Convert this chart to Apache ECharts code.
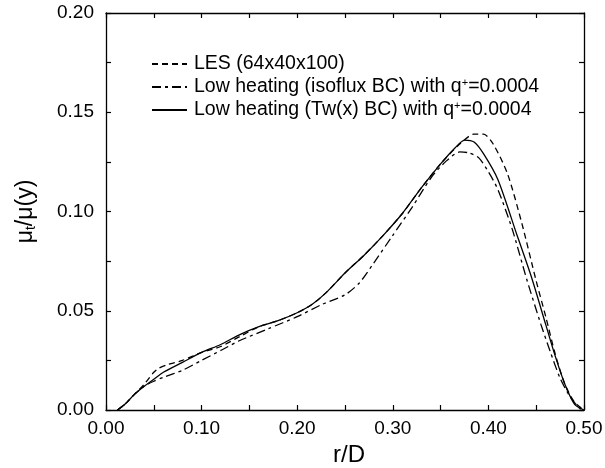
<!DOCTYPE html>
<html>
<head>
<meta charset="utf-8">
<script src="https://cdn.jsdelivr.net/npm/echarts@6/dist/echarts.min.js"></script>
<style>html,body{margin:0;padding:0;background:#fff}#c{width:605px;height:468px}</style>
</head>
<body>
<div id="c"></div>
<script>
var seriesNames = ['LES (64x40x100)', 'Low heating (isoflux BC) with q+=0.0004', 'Low heating (Tw(x) BC) with q+=0.0004'];
var xTicks = [0.0, 0.1, 0.2, 0.3, 0.4, 0.5];
var yTicks = [0.0, 0.05, 0.1, 0.15, 0.2];

var lesData = [[0.012,0],[0.02,0.003],[0.03,0.008],[0.04,0.013],[0.05,0.019],[0.055,0.021],[0.065,0.023],[0.08,0.025],[0.1,0.029],[0.12,0.032],[0.14,0.037],[0.16,0.042],[0.18,0.045],[0.2,0.049],[0.215,0.053],[0.23,0.059],[0.25,0.069],[0.27,0.078],[0.29,0.088],[0.31,0.099],[0.33,0.112],[0.35,0.124],[0.37,0.134],[0.385,0.139],[0.395,0.139],[0.405,0.134],[0.42,0.119],[0.435,0.094],[0.45,0.065],[0.46,0.047],[0.47,0.028],[0.48,0.013],[0.49,0.004],[0.5,0]];
var isofluxData = [[0.012,0],[0.02,0.003],[0.03,0.008],[0.04,0.012],[0.05,0.0145],[0.06,0.0165],[0.08,0.02],[0.1,0.025],[0.12,0.030],[0.14,0.035],[0.17,0.041],[0.2,0.047],[0.225,0.053],[0.25,0.058],[0.265,0.064],[0.28,0.074],[0.3,0.088],[0.32,0.102],[0.34,0.117],[0.355,0.125],[0.37,0.13],[0.38,0.1295],[0.39,0.127],[0.4,0.12],[0.41,0.111],[0.425,0.091],[0.44,0.066],[0.455,0.043],[0.465,0.029],[0.475,0.016],[0.485,0.007],[0.495,0.001],[0.5,0]];
var twData = [[0.012,0],[0.02,0.003],[0.03,0.008],[0.04,0.012],[0.05,0.0155],[0.06,0.019],[0.08,0.024],[0.1,0.029],[0.12,0.033],[0.14,0.038],[0.16,0.042],[0.18,0.045],[0.2,0.049],[0.215,0.053],[0.23,0.059],[0.25,0.069],[0.27,0.078],[0.29,0.088],[0.31,0.099],[0.33,0.112],[0.35,0.124],[0.365,0.132],[0.375,0.136],[0.385,0.135],[0.395,0.129],[0.41,0.116],[0.43,0.088],[0.445,0.067],[0.46,0.043],[0.47,0.027],[0.48,0.013],[0.49,0.003],[0.5,0]];

var FONT = 'Liberation Sans, Arial, sans-serif';
var chart = echarts.init(document.getElementById('c'), null, {renderer: 'canvas'});

function axisCommon(show) {
  return {
    axisLine: {show: true, onZero: false, lineStyle: {color: '#000', width: 1.3}},
    axisTick: {show: true, inside: true, length: 5, lineStyle: {color: '#000', width: 1.2}},
    minorTick: {show: true, splitNumber: 2, length: 5, lineStyle: {color: '#000', width: 1.2}},
    splitLine: {show: false},
    axisLabel: {show: show, color: '#000', fontSize: 19, fontFamily: FONT,
      formatter: function (v) { return v.toFixed(2); }}
  };
}

var xMain = Object.assign(axisCommon(true), {
  type: 'value', position: 'bottom', min: 0, max: 0.5, interval: 0.1,
  name: 'r/D', nameLocation: 'middle', nameGap: 33,
  nameTextStyle: {color: '#000', fontSize: 24, fontFamily: FONT, padding: [0, 0, 0, 8]}
});
xMain.axisLabel.margin = 9;
var xTop = Object.assign(axisCommon(false), {type: 'value', position: 'top', min: 0, max: 0.5, interval: 0.1});
var yMain = Object.assign(axisCommon(true), {
  type: 'value', position: 'left', min: 0, max: 0.2, interval: 0.05,
  name: '{m|μ}{s|t}{m|/μ(y)}', nameLocation: 'middle', nameGap: 68,
  nameTextStyle: {color: '#000', fontFamily: FONT,
    rich: {m: {fontSize: 23, fontFamily: FONT, color: '#000'}, s: {fontSize: 14, fontFamily: FONT, color: '#000', verticalAlign: 'bottom', padding: [10, 0, 0, 0]}}}
});
yMain.axisLabel.margin = 12;
var yRight = Object.assign(axisCommon(false), {type: 'value', position: 'right', min: 0, max: 0.2, interval: 0.05});

function mk(name, data, dash, idx) {
  return {
    name: name, type: 'line', data: data, xAxisIndex: 0, yAxisIndex: 0,
    smooth: 0.25, showSymbol: false, symbol: 'none', z: 3 - idx,
    lineStyle: {color: '#000', width: 1.3, type: dash},
    itemStyle: {color: '#000'}
  };
}

var option = {
  animation: false,
  backgroundColor: '#fff',
  grid: {left: 106, right: 21, top: 13, bottom: 58, containLabel: false, outerBoundsMode: 'none'},
  xAxis: [xMain, xTop],
  yAxis: [yMain, yRight],
  legend: {
    show: true,
    orient: 'vertical', left: 146, top: 49, itemWidth: 35, itemHeight: 14, itemGap: 3,
    itemStyle: {opacity: 0},
    data: seriesNames,
    formatter: function (n) {
      var i = n.indexOf('q+');
      if (i < 0) return '{a|' + n + '}';
      return '{a|' + n.slice(0, i + 1) + '}{s|+}{a|' + n.slice(i + 2) + '}';
    },
    textStyle: {color: '#000', fontFamily: FONT, fontSize: 19.5, padding: [0, 0, 0, 2],
      rich: {a: {fontSize: 19.5, fontFamily: FONT, color: '#000'}, s: {fontSize: 11, fontFamily: FONT, color: '#000', verticalAlign: 'top', padding: [0, 0, 8, 0]}}}
  },
  series: [
    mk(seriesNames[0], lesData, [6, 4], 0),
    mk(seriesNames[1], isofluxData, [9, 4, 3, 4], 1),
    mk(seriesNames[2], twData, 'solid', 2)
  ]
};
chart.setOption(option);
</script>
</body>
</html>
